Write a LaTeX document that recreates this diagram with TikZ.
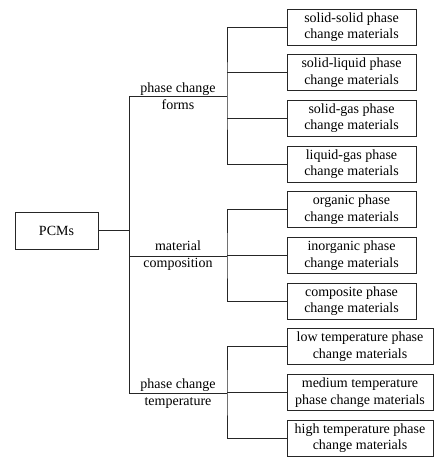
\documentclass[tikz,border=0pt]{standalone}
\usepackage{fontspec}
\setmainfont{Liberation Serif}
\usetikzlibrary{positioning}
\tikzset{
	leaf/.style={rectangle, draw=black!85, line width=0.9pt, align=center, minimum width=129pt, minimum height=36pt, inner sep=0pt, font=\fontsize{14}{16.5}\selectfont},
	wideleaf/.style={leaf, minimum width=146pt},
	root/.style={rectangle, draw=black!85, line width=0.9pt, minimum width=83pt, minimum height=37pt, font=\fontsize{14}{17}\selectfont},
	branch/.style={align=center, inner sep=0pt, font=\fontsize{14}{17}\selectfont},
	link/.style={draw=black!85, line width=0.9pt},
}
\begin{document}
\begin{tikzpicture}[x=1pt, y=-1pt, node distance=8.8pt]
	\useasboundingbox (0,0) rectangle (434,457);
	\node[root] (pcm) at (56.5,230.5) {PCMs};
	% phase change forms
	\node[leaf] (ss) at (351.5,27) {solid-solid phase\\change materials};
	\node[leaf, below=of ss] (sl) {solid-liquid phase\\change materials};
	\node[leaf, below=of sl] (sg) {solid-gas phase\\change materials};
	\node[leaf, below=of sg] (lg) {liquid-gas phase\\change materials};
	% material composition
	\node[leaf, below=of lg] (org) {organic phase\\change materials};
	\node[leaf, below=of org] (inorg) {inorganic phase\\change materials};
	\node[leaf, below=of inorg] (comp) {composite phase\\change materials};
	% phase change temperature
	\node[wideleaf, below=of comp.south west, anchor=north west] (low) {low temperature phase\\change materials};
	\node[wideleaf, below=of low] (med) {medium temperature\\phase change materials};
	\node[wideleaf, below=of med] (high) {high temperature phase\\change materials};
	% branch labels and junctions
	\node[branch] (forms) at (178,96) {phase change\\forms};
	\node[branch] (compo) at (178,256) {material\\composition};
	\node[branch] (temp) at (178,394) {phase change\\temperature};
	\coordinate (tr) at (129,0);
	\coordinate (fj) at (227,96);
	\coordinate (cj) at (227,256);
	\coordinate (tj) at (227,393);
	% connectors
	\draw[link] (pcm.east) -- (pcm.east -| tr);
	\draw[link] (fj -| tr) -- (tj -| tr);
	\foreach \j in {fj,cj,tj}{\draw[link] (\j -| tr) -- (\j);}
	\draw[link] (ss.west) -| (fj) |- (lg.west);
	\draw[link] (org.west) -| (cj) |- (comp.west);
	\draw[link] (low.west) -| (tj) |- (high.west);
	\foreach \x in {sl,sg,inorg,med}{\draw[link] (\x.west) -- (\x.west -| fj);}
\end{tikzpicture}
\end{document}
